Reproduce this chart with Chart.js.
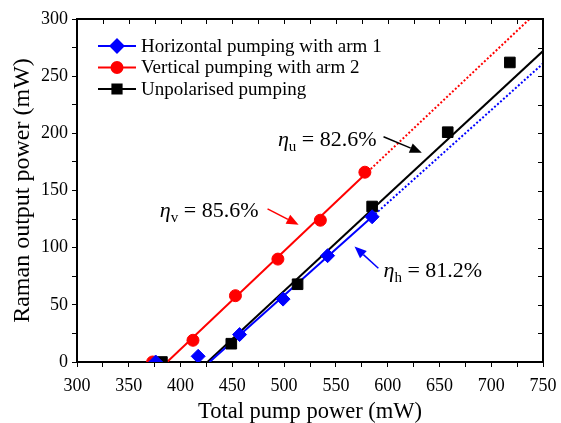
<!DOCTYPE html>
<html>
<head>
<meta charset="utf-8">
<script src="https://cdn.jsdelivr.net/npm/chart.js@4.4.0/dist/chart.umd.min.js"></script>
<style>
  html, body { margin: 0; padding: 0; background: #fff; }
  #wrap { width: 561px; height: 423px; }
</style>
</head>
<body>
<div id="wrap"><canvas id="chart" width="561" height="423"></canvas></div>
<script>
// measured points
const hPump = [376, 417, 457, 499, 542, 585];
const hRaman = [0, 5, 24, 55, 93, 127];
const vPump = [373, 412, 453, 494, 535, 578];
const vRaman = [0, 19, 58, 90, 124, 166];
const uPump = [382, 449, 513, 585, 658, 718];
const uRaman = [0, 16, 68, 136, 201, 262];

// linear fits (solid part, then dotted extrapolation)
const hFitX = [428, 585, 750];
const hFitY = [0, 127, 261];
const vFitX = [387, 578, 737];
const vFitY = [0, 164, 300];
const uFitX = [426, 750];
const uFitY = [0, 272];

const xTicks = [300, 350, 400, 450, 500, 550, 600, 650, 700, 750];
const yTicks = [0, 50, 100, 150, 200, 250, 300];

const labels = ['Horizontal pumping with arm 1', 'Vertical pumping with arm 2', 'Unpolarised pumping'];
const colors = ['#0000ff', '#ff0000', '#000000'];
const markers = ['rectRot', 'circle', 'rect'];

// efficiency labels, text and arrow ends in data units
const notes = [
    { sub: 'u', text: ' = 82.6%', x: 494, y: 189, ax: 596, ay: 197, bx: 633, by: 183, color: '#000000' },
    { sub: 'v', text: ' = 85.6%', x: 380, y: 127, ax: 484, ay: 134, bx: 514, by: 120, color: '#ff0000' },
    { sub: 'h', text: ' = 81.2%', x: 596, y: 74, ax: 591, ay: 82, bx: 568, by: 101, color: '#0000ff' }
];

const pts = (xs, ys) => xs.map((x, i) => ({ x: x, y: ys[i] }));
const serif = '"Liberation Serif", "Times New Roman", serif';

function fitSet(xs, ys, color, dotted) {
    return {
        data: pts(xs, ys), borderColor: color, borderWidth: 2,
        borderDash: dotted ? [2, 2] : [], showLine: true, pointRadius: 0, fill: false, order: 10
    };
}

const datasets = [
    { label: labels[0], data: pts(hPump, hRaman), backgroundColor: colors[0], borderColor: colors[0], pointStyle: markers[0], pointRadius: 7, showLine: false, order: 1 },
    { label: labels[1], data: pts(vPump, vRaman), backgroundColor: colors[1], borderColor: colors[1], pointStyle: markers[1], pointRadius: 6, showLine: false, order: 2 },
    { label: labels[2], data: pts(uPump, uRaman), backgroundColor: colors[2], borderColor: colors[2], pointStyle: markers[2], pointRadius: 7.5, showLine: false, order: 3 },
    fitSet(hFitX.slice(0, 2), hFitY.slice(0, 2), colors[0], false),
    fitSet(hFitX.slice(1), hFitY.slice(1), colors[0], true),
    fitSet(vFitX.slice(0, 2), vFitY.slice(0, 2), colors[1], false),
    fitSet(vFitX.slice(1), vFitY.slice(1), colors[1], true),
    fitSet(uFitX, uFitY, colors[2], false)
];

function arrow(ctx, x1, y1, x2, y2, color) {
    const ang = Math.atan2(y2 - y1, x2 - x1);
    const len = 12, half = 5;
    ctx.strokeStyle = color;
    ctx.fillStyle = color;
    ctx.lineWidth = 1.5;
    ctx.beginPath();
    ctx.moveTo(x1, y1);
    ctx.lineTo(x2 - Math.cos(ang) * len, y2 - Math.sin(ang) * len);
    ctx.stroke();
    ctx.beginPath();
    ctx.moveTo(x2, y2);
    ctx.lineTo(x2 - Math.cos(ang) * len - Math.sin(ang) * half, y2 - Math.sin(ang) * len + Math.cos(ang) * half);
    ctx.lineTo(x2 - Math.cos(ang) * len + Math.sin(ang) * half, y2 - Math.sin(ang) * len - Math.cos(ang) * half);
    ctx.closePath();
    ctx.fill();
}

const extras = {
    id: 'extras',
    afterDraw(chart) {
        const ctx = chart.ctx;
        const a = chart.chartArea;
        const xs = chart.scales.x, ys = chart.scales.y;
        ctx.save();

        // frame top/right
        ctx.strokeStyle = '#000';
        ctx.lineWidth = 2;
        ctx.beginPath();
        ctx.moveTo(a.left, a.top);
        ctx.lineTo(a.right, a.top);
        ctx.lineTo(a.right, a.bottom);
        ctx.stroke();

        // inside ticks on top and right
        ctx.lineWidth = 1;
        for (let v = 300; v <= 750; v += 25) {
            const p = Math.round(xs.getPixelForValue(v)) + 0.5;
            ctx.beginPath(); ctx.moveTo(p, a.top); ctx.lineTo(p, a.top + 5); ctx.stroke();
        }
        for (let v = 0; v <= 300; v += 25) {
            const p = Math.round(ys.getPixelForValue(v)) + 0.5;
            ctx.beginPath(); ctx.moveTo(a.right, p); ctx.lineTo(a.right - 5, p); ctx.stroke();
        }

        // legend
        ctx.font = '19px ' + serif;
        ctx.textBaseline = 'middle';
        for (let i = 0; i < 3; i++) {
            const y = 46 + i * 21.5;
            ctx.strokeStyle = colors[i];
            ctx.lineWidth = 2;
            ctx.beginPath(); ctx.moveTo(98, y); ctx.lineTo(136, y); ctx.stroke();
            Chart.helpers.drawPoint(ctx, { pointStyle: markers[i], radius: i === 1 ? 5.5 : 6.5, borderWidth: 1 }, 117, y);
            ctx.fillStyle = colors[i];
            ctx.fill();
            ctx.fillStyle = '#000';
            ctx.fillText(labels[i], 141, y + 1);
        }

        // efficiency notes
        notes.forEach(n => {
            let x = xs.getPixelForValue(n.x);
            const y = ys.getPixelForValue(n.y);
            ctx.fillStyle = '#000';
            ctx.textBaseline = 'alphabetic';
            ctx.font = 'italic 22px ' + serif;
            ctx.fillText('\u03b7', x, y);
            x += ctx.measureText('\u03b7').width;
            ctx.font = '15px ' + serif;
            ctx.fillText(n.sub, x, y + 5);
            x += ctx.measureText(n.sub).width;
            ctx.font = '22px ' + serif;
            ctx.fillText(n.text, x, y);
            arrow(ctx, xs.getPixelForValue(n.ax), ys.getPixelForValue(n.ay),
                xs.getPixelForValue(n.bx), ys.getPixelForValue(n.by), n.color);
        });
        ctx.restore();
    }
};

new Chart(document.getElementById('chart'), {
    type: 'scatter',
    data: { datasets: datasets },
    options: {
        responsive: false,
        animation: false,
        layout: { padding: { top: 19, right: 18, left: 0, bottom: 0 } },
        plugins: { legend: { display: false }, tooltip: { enabled: false } },
        scales: {
            x: {
                type: 'linear', min: 300, max: 750,
                afterBuildTicks: s => { s.ticks = []; for (let v = 300; v <= 750; v += 25) s.ticks.push({ value: v }); },
                afterFit: s => { s.height = 61; s.paddingLeft = 0; s.paddingRight = 0; },
                ticks: {
                    color: '#000', font: { family: serif, size: 18 }, padding: 8, maxRotation: 0, autoSkip: false,
                    callback: v => xTicks.includes(v) ? String(v) : ''
                },
                grid: { drawOnChartArea: false, drawTicks: true, tickLength: 5, color: '#000' },
                border: { color: '#000', width: 2 },
                title: { display: true, text: 'Total pump power (mW)', color: '#000', font: { family: serif, size: 22.5 }, padding: { top: 0, bottom: -3 } }
            },
            y: {
                type: 'linear', min: 0, max: 300,
                afterBuildTicks: s => { s.ticks = []; for (let v = 0; v <= 300; v += 25) s.ticks.push({ value: v }); },
                afterFit: s => { s.width = 77; s.paddingTop = 0; s.paddingBottom = 0; },
                ticks: {
                    color: '#000', font: { family: serif, size: 18 }, padding: 4, autoSkip: false,
                    callback: v => yTicks.includes(v) ? String(v) : ''
                },
                grid: { drawOnChartArea: false, drawTicks: true, tickLength: 5, color: '#000' },
                border: { color: '#000', width: 2 },
                title: { display: true, text: 'Raman output power (mW)', color: '#000', font: { family: serif, size: 24 }, padding: { top: 8, bottom: 0 } }
            }
        }
    },
    plugins: [extras]
});
</script>
</body>
</html>
